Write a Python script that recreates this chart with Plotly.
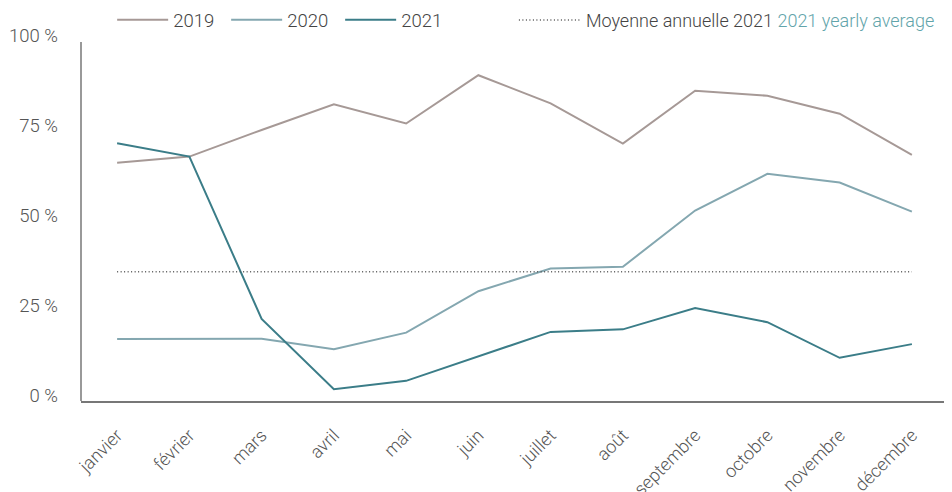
import plotly.graph_objects as go

# Monthly rates (%)
mois = ['janvier', 'février', 'mars', 'avril', 'mai', 'juin', 'juillet',
        'août', 'septembre', 'octobre', 'novembre', 'décembre']
taux_2019 = [64.8, 66.5, 73.9, 81.0, 75.7, 89.1, 81.3, 70.1, 84.8, 83.4, 78.4, 67.0]
taux_2020 = [15.8, 15.8, 15.9, 13.0, 17.6, 29.1, 35.4, 35.9, 51.5, 61.7, 59.3, 51.2]
taux_2021 = [70.2, 66.5, 21.4, 1.9, 4.2, 11.1, 17.8, 18.5, 24.4, 20.5, 10.6, 14.4]
moyenne_2021 = 34.5
y_ticks = [0, 25, 50, 75, 100]
y_labels = ['0 %', '25 %', '50 %', '75 %', '100 %']

font_family = 'Roboto'
text_color = '#555555'

fig = go.Figure()

series = [('2019', taux_2019, '#a69996'),
          ('2020', taux_2020, '#84a7b0'),
          ('2021', taux_2021, '#3b7d88')]
for name, vals, col in series:
    fig.add_trace(go.Scatter(x=mois, y=vals, mode='lines', name=name,
                             line=dict(color=col, width=2), legend='legend'))

fig.add_trace(go.Scatter(
    x=mois, y=[moyenne_2021] * len(mois), mode='lines',
    name='Moyenne annuelle 2021 <span style="color:#62a4aa">2021 yearly average</span>',
    line=dict(color='#555555', width=1.3, dash='1px,2.5px'), legend='legend2'))

# y axis line stops a little below the 100 % tick, as in the original
fig.add_shape(type='line', xref='paper', yref='y', x0=0, x1=0, y0=-1.4, y1=98.3,
              line=dict(color='#777777', width=1.5))

# page body adds an 8px offset, margins below account for it
fig.update_layout(
    width=952, height=492,
    margin=dict(l=73, r=12, t=28, b=99, autoexpand=False),
    paper_bgcolor='white', plot_bgcolor='white',
    font=dict(family=font_family, size=16, color=text_color, weight=300),
    showlegend=True,
    legend=dict(orientation='h', xref='container', yref='container',
                x=0.1094, y=0.975, xanchor='left', yanchor='middle',
                font=dict(size=18.5, color='#444444'), itemwidth=51,
                entrywidth=48, bgcolor='rgba(0,0,0,0)'),
    legend2=dict(orientation='h', xref='container', yref='container',
                 x=0.5314, y=0.975, xanchor='left', yanchor='middle',
                 font=dict(size=18, color='#444444'), itemwidth=62,
                 bgcolor='rgba(0,0,0,0)'),
    xaxis=dict(range=[-0.5, 11.5], showgrid=False, zeroline=False,
               showline=True, linecolor='#777777', linewidth=1.5,
               tickangle=-45, ticklabelstandoff=15, automargin=False,
               tickfont=dict(size=18, color=text_color)),
    yaxis=dict(range=[-1.4, 100], showgrid=False, zeroline=False,
               showline=False, tickvals=y_ticks, ticktext=y_labels,
               ticklabelstandoff=22, automargin=False,
               tickfont=dict(size=18.5, color=text_color)),
)

fig.write_html('out.html')
